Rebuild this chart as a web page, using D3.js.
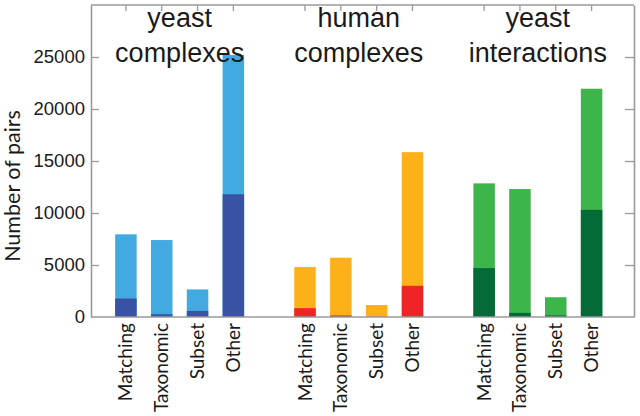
<!DOCTYPE html>
<html>
<head>
<meta charset="utf-8">
<script src="https://cdn.jsdelivr.net/npm/d3@7"></script>
<style>
  html, body { margin: 0; padding: 0; background: #fff; }
  svg { display: block; }
</style>
</head>
<body>
<svg id="chart" width="640" height="416"></svg>
<script>
// ---- data ----
const categories = ["Matching", "Taxonomic", "Subset", "Other"];
const groupTitles = [["yeast", "complexes"], ["human", "complexes"], ["yeast", "interactions"]];
const yeastComplexesTotal = [7950, 7400, 2650, 25200];
const yeastComplexesCore  = [1780, 260, 580, 11800];
const humanComplexesTotal = [4800, 5700, 1150, 15850];
const humanComplexesCore  = [850, 150, 30, 3000];
const yeastInteractionsTotal = [12850, 12300, 1900, 21950];
const yeastInteractionsCore  = [4700, 400, 150, 10300];
const yTicks = [0, 5000, 10000, 15000, 20000, 25000];
const lightColors = ["#43aae1", "#fdb118", "#3cb54a"];
const darkColors  = ["#3a52a3", "#ee2426", "#036a38"];

const groupsData = [
  { total: yeastComplexesTotal, core: yeastComplexesCore },
  { total: humanComplexesTotal, core: humanComplexesCore },
  { total: yeastInteractionsTotal, core: yeastInteractionsCore }
];

(function () {
// ---- layout ----
const svg = d3.select("#chart");
const frame = { left: 91, right: 634, top: 5, bottom: 317 };
const axisColor = "#9a9a9a";

// slot domain: 4 bars per group, one empty slot between groups
const slots = [];
groupsData.forEach((g, gi) => {
  categories.forEach(c => slots.push(gi + "|" + c));
  if (gi < groupsData.length - 1) slots.push("gap" + gi);
});
const x = d3.scaleBand().domain(slots).range([108, 609.5]).paddingInner(0.4).paddingOuter(0.2);
const y = d3.scaleLinear().domain([0, 30000]).range([frame.bottom, frame.top]);

const bars = [];
groupsData.forEach((g, gi) => {
  categories.forEach((c, ci) => {
    bars.push({ key: gi + "|" + c, cat: c, gi, total: g.total[ci], core: g.core[ci] });
  });
});

// bars
const gBars = svg.append("g");
gBars.selectAll("rect.total").data(bars).join("rect")
  .attr("class", "total")
  .attr("x", d => x(d.key)).attr("width", x.bandwidth())
  .attr("y", d => y(d.total)).attr("height", d => y(0) - y(d.total))
  .attr("fill", d => lightColors[d.gi]);
gBars.selectAll("rect.core").data(bars).join("rect")
  .attr("class", "core")
  .attr("x", d => x(d.key)).attr("width", x.bandwidth())
  .attr("y", d => y(d.core)).attr("height", d => y(0) - y(d.core))
  .attr("fill", d => darkColors[d.gi]);

// axes
const axLeft = svg.append("g").attr("transform", `translate(${frame.left},0)`)
  .call(d3.axisLeft(y).tickValues(yTicks).tickSizeInner(-8).tickSizeOuter(0).tickPadding(6).tickFormat(d3.format("d")));
const axRight = svg.append("g").attr("transform", `translate(${frame.right},0)`)
  .call(d3.axisRight(y).tickValues(yTicks.filter(v => v > 0)).tickSizeInner(-9).tickSizeOuter(0).tickFormat(""));
const axTop = svg.append("g").attr("transform", `translate(0,${frame.top})`)
  .call(d3.axisTop(x).tickValues(bars.map(b => b.key)).tickSizeInner(-6).tickSizeOuter(0).tickFormat(""));
axTop.select(".domain").attr("d", `M${frame.left},0H${frame.right}`);
const axBottom = svg.append("g").attr("transform", `translate(0,${frame.bottom})`)
  .call(d3.axisBottom(x).tickValues(bars.map(b => b.key)).tickSize(0).tickPadding(0).tickFormat(""));
axBottom.select(".domain").attr("d", `M${frame.left},0H${frame.right}`);

[axLeft, axRight, axTop, axBottom].forEach(g => {
  g.select(".domain").attr("stroke", axisColor).attr("stroke-width", 1.6);
  g.selectAll(".tick line").attr("stroke", axisColor).attr("stroke-width", 1.3);
});
axLeft.selectAll(".tick text")
  .attr("font-family", "'Liberation Sans', Arial, sans-serif")
  .attr("font-size", 18.5).attr("fill", "#1a1a1a");
axLeft.selectAll(".tick").filter(d => d === 0).select("line").remove();

// category labels (rotated)
svg.append("g").selectAll("text").data(bars).join("text")
  .attr("transform", d => `translate(${x(d.key) + x.bandwidth() / 2 + 6.5},${frame.bottom + 6}) rotate(-90)`)
  .attr("text-anchor", "end")
  .attr("font-family", "Lato, 'Open Sans', sans-serif")
  .attr("font-size", 19).attr("fill", "#1a1a1a")
  .text(d => d.cat);

// y label
svg.append("text")
  .attr("transform", "translate(20,186) rotate(-90)")
  .attr("text-anchor", "middle")
  .attr("font-family", "Lato, 'Open Sans', sans-serif")
  .attr("font-size", 21.5).attr("fill", "#1a1a1a")
  .text("Number of pairs");

// group titles
groupTitles.forEach((lines, gi) => {
  const first = x(gi + "|" + categories[0]);
  const last = x(gi + "|" + categories[categories.length - 1]) + x.bandwidth();
  const cx = (first + last) / 2;
  const t = svg.append("text")
    .attr("text-anchor", "middle")
    .attr("font-family", "'Liberation Sans', Arial, sans-serif")
    .attr("font-size", 27).attr("fill", "#1a1a1a");
  lines.forEach((ln, li) => {
    t.append("tspan").attr("x", cx).attr("y", 27 + li * 35).text(ln);
  });
});
})();
</script>
</body>
</html>
